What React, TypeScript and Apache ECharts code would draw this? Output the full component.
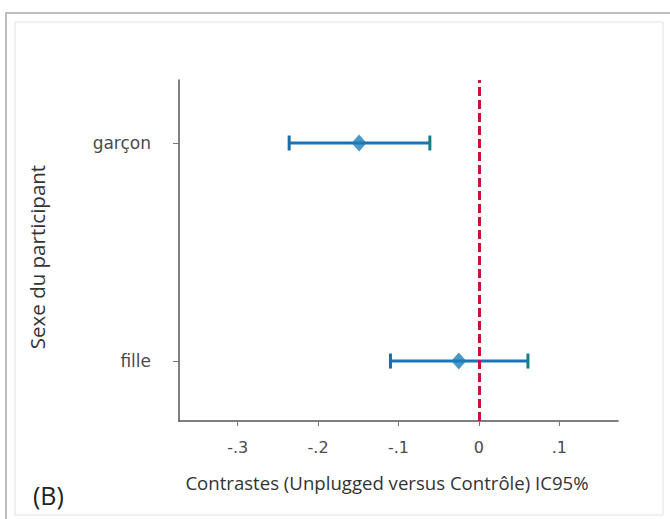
import React, { useEffect, useRef } from "react";
import * as echarts from "echarts";

const categories = ["fille", "garçon"];
const estimates = [-0.025, -0.149];
const lowerCI = [-0.11, -0.236];
const upperCI = [0.061, -0.061];
const xTicks = [-0.3, -0.2, -0.1, 0, 0.1];
const xTickLabels = ["-.3", "-.2", "-.1", "0", ".1"];
const xTitle = "Contrastes (Unplugged versus Contrôle) IC95%";
const yTitle = "Sexe du participant";
const panelLabel = "(B)";

export default function App() {
  const ref = useRef<HTMLDivElement>(null);
  useEffect(() => {
    if (!ref.current) return;
    const chart = echarts.init(ref.current, undefined, { renderer: "svg" });
    const barData = categories.map((_, i) => [lowerCI[i], upperCI[i], i]);
    const pointData = categories.map((_, i) => [estimates[i], i]);
    const blue = "#1b73b8";
    chart.setOption({
      animation: false,
      backgroundColor: "#ffffff",
      grid: { left: 179, right: 52, top: 80, bottom: 98, containLabel: false },
      xAxis: {
        type: "value",
        min: -0.373,
        max: 0.173,
        splitLine: { show: false },
        axisLine: { show: true, onZero: false, lineStyle: { color: "#555", width: 1.5 } },
        axisTick: { show: true, length: 5, customValues: xTicks, lineStyle: { color: "#777" } },
        axisLabel: {
          customValues: xTicks,
          margin: 18,
          color: "#4a4a4a",
          fontFamily: "DejaVu Sans",
          fontSize: 16,
          formatter: (v: number) => {
            let best = 0;
            xTicks.forEach((t, i) => {
              if (Math.abs(t - v) < Math.abs(xTicks[best] - v)) best = i;
            });
            return xTickLabels[best];
          },
        },
      },
      yAxis: {
        type: "value",
        min: -0.275,
        max: 1.289,
        splitLine: { show: false },
        axisLine: { show: true, onZero: false, lineStyle: { color: "#555", width: 1.5 } },
        axisTick: { show: true, length: 6, customValues: [0, 1], lineStyle: { color: "#777" } },
        axisLabel: {
          customValues: [0, 1],
          margin: 28,
          color: "#4a4a4a",
          fontFamily: "DejaVu Sans",
          fontSize: 17,
          formatter: (v: number) => categories[Math.round(v)],
        },
      },
      graphic: [
        {
          type: "rect",
          shape: { x: 6, y: 13, width: 700, height: 530 },
          style: { fill: "none", stroke: "#bdbdbd", lineWidth: 2 },
          silent: true,
        },
        {
          type: "rect",
          shape: { x: 15, y: 22, width: 648, height: 493 },
          style: { fill: "none", stroke: "#e2e2e2", lineWidth: 1 },
          silent: true,
        },
        {
          type: "text",
          x: 387,
          y: 482,
          style: {
            text: xTitle,
            fill: "#333",
            font: '18.6px "Open Sans"',
            align: "center",
            verticalAlign: "middle",
          },
        },
        {
          type: "text",
          x: 37,
          y: 257,
          rotation: Math.PI / 2,
          style: {
            text: yTitle,
            fill: "#333",
            font: '20.5px "Open Sans"',
            align: "center",
            verticalAlign: "middle",
          },
        },
        {
          type: "text",
          x: 33,
          y: 495,
          style: {
            text: panelLabel,
            fill: "#222",
            font: '25px "Open Sans"',
            align: "left",
            verticalAlign: "middle",
          },
        },
      ],
      series: [
        {
          type: "custom",
          data: barData,
          renderItem: (params: any, api: any) => {
            const lo = api.coord([api.value(0), api.value(2)]);
            const hi = api.coord([api.value(1), api.value(2)]);
            const h = 7.5;
            return {
              type: "group",
              children: [
                {
                  type: "line",
                  shape: { x1: lo[0], y1: lo[1], x2: hi[0], y2: hi[1] },
                  style: { stroke: blue, lineWidth: 3 },
                },
                {
                  type: "line",
                  shape: { x1: lo[0], y1: lo[1] - h, x2: lo[0], y2: lo[1] + h },
                  style: { stroke: "#1a6ea5", lineWidth: 3 },
                },
                {
                  type: "line",
                  shape: { x1: hi[0], y1: hi[1] - h, x2: hi[0], y2: hi[1] + h },
                  style: { stroke: "#157f86", lineWidth: 3 },
                },
              ],
            };
          },
          z: 3,
        },
        {
          type: "scatter",
          data: pointData,
          symbol: "diamond",
          symbolSize: [15, 17],
          itemStyle: { color: "#1a7db8" },
          z: 4,
          markLine: {
            silent: true,
            symbol: "none",
            label: { show: false },
            lineStyle: { color: "#cc1138", width: 3, type: [9, 4] },
            data: [{ xAxis: 0 }],
          },
        },
      ],
    });
    return () => chart.dispose();
  }, []);
  return (
    <div
      ref={ref}
      style={{ position: "fixed", left: 0, top: 0, width: 670, height: 519 }}
    />
  );
}
